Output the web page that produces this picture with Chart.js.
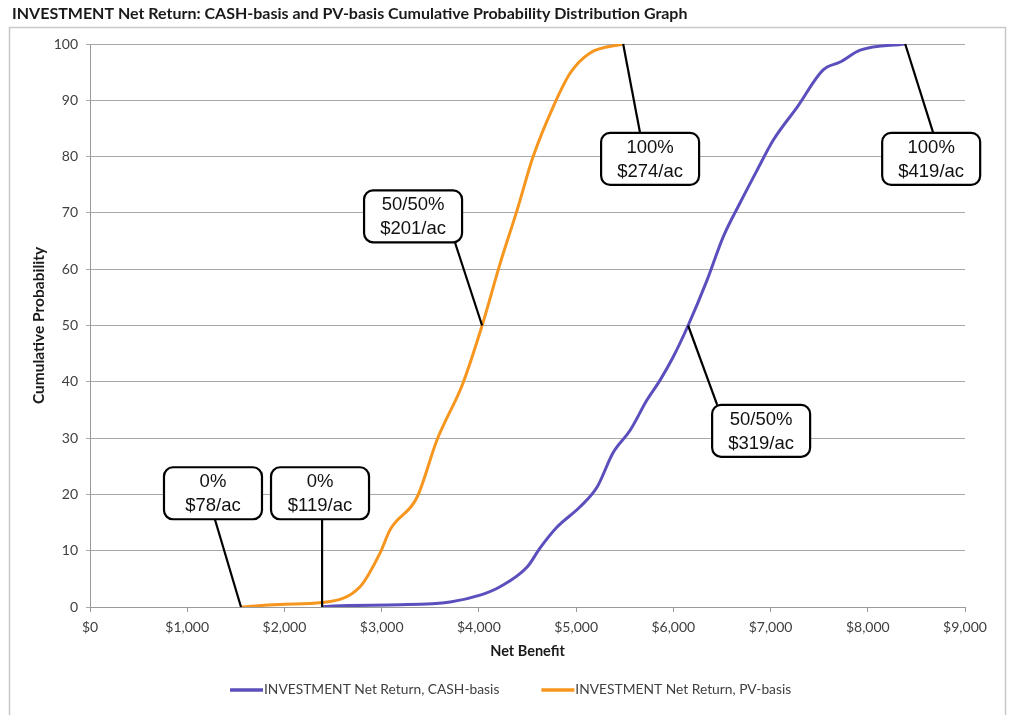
<!DOCTYPE html>
<html>
<head>
<meta charset="utf-8">
<script src="https://cdn.jsdelivr.net/npm/chart.js@4.4.0/dist/chart.umd.min.js"></script>
<style>
  body { margin: 0; background: #fff; }
  #wrap { width: 1016px; height: 715px; position: relative; }
</style>
</head>
<body>
<div id="wrap"><canvas id="cdfChart"></canvas></div>
<script>
// chart data
const chartTitle = 'INVESTMENT Net Return: CASH-basis and PV-basis Cumulative Probability Distribution Graph';
const seriesNames = ['INVESTMENT Net Return, CASH-basis', 'INVESTMENT Net Return, PV-basis'];

// CASH-basis curve (net benefit $, cumulative probability)
const cashX = [2387, 2500, 3189, 3704, 4012, 4218, 4496, 4630, 4804, 5041, 5216, 5380, 5556, 5730, 5864, 5998, 6152, 6348, 6512, 6687, 6862, 7027, 7274, 7541, 7716, 7922, 8385];
const cashY = [0, 0.2, 0.4, 0.9, 2.1, 3.6, 7.1, 10.5, 14.2, 17.8, 21.3, 27.4, 31.4, 36.8, 40.3, 44.4, 50, 58.1, 65.7, 71.8, 77.6, 82.9, 88.8, 95.4, 96.8, 98.9, 100];

// PV-basis curve
const pvX = [1553, 2000, 2387, 2778, 2984, 3086, 3364, 3570, 3837, 4033, 4218, 4393, 4558, 4763, 4938, 5144, 5484];
const pvY = [0, 0.5, 0.8, 3.6, 9.6, 13.7, 19.5, 29.7, 39.8, 50, 61, 70.5, 80, 88.8, 94.8, 98.4, 100];

// callout labels and the point each one marks
const calloutText = [['0%', '$78/ac'], ['0%', '$119/ac'], ['50/50%', '$201/ac'], ['100%', '$274/ac'], ['100%', '$419/ac'], ['50/50%', '$319/ac']];
const calloutX = [1553, 2387, 4033, 5484, 8385, 6152];
const calloutY = [0, 0, 50, 100, 100, 50];

// where the boxes sit (data units) and where the leader line meets them
const boxAt = [[1265, 20.2], [2366, 20.2], [3323, 69.4], [5761, 79.6], [8652, 79.6], [6903, 31.3]];
const leaderEnd = [[1286, 15.5], [2387, 15.5], [3755, 64.7], [5658, 84.2], [8673, 84.2], [6451, 35.9]];

const blue = '#5b4fbd';
const orange = '#f7961e';
const textGrey = '#404040';
const uiFont = 'Lato, "Open Sans", sans-serif';

function toPoints(xs, ys) {
    return xs.map((x, i) => ({ x: x, y: ys[i] }));
}

// title, frame, callouts and legend are drawn by hand
const extrasPlugin = {
    id: 'extras',
    beforeDraw(chart) {
        const ctx = chart.ctx;
        ctx.save();
        ctx.strokeStyle = '#c8c8c8';
        ctx.lineWidth = 1.5;
        ctx.strokeRect(9.5, 27.5, 996, 700);
        ctx.fillStyle = '#1a1a1a';
        ctx.font = 'bold 16px ' + uiFont;
        ctx.textBaseline = 'middle';
        ctx.textAlign = 'left';
        ctx.fillText(chartTitle, 12, 14);
        ctx.restore();
    },
    afterDatasetsDraw(chart) {
        const ctx = chart.ctx;
        const xs = chart.scales.x, ys = chart.scales.y;
        ctx.save();
        calloutText.forEach((lines, i) => {
            const ax = xs.getPixelForValue(calloutX[i]);
            const ay = ys.getPixelForValue(calloutY[i]);
            const ex = xs.getPixelForValue(leaderEnd[i][0]);
            const ey = ys.getPixelForValue(leaderEnd[i][1]);
            const bx = xs.getPixelForValue(boxAt[i][0]);
            const by = ys.getPixelForValue(boxAt[i][1]);
            ctx.strokeStyle = '#000';
            ctx.lineWidth = 2.2;
            ctx.beginPath();
            ctx.moveTo(ax, ay);
            ctx.lineTo(ex, ey);
            ctx.stroke();
            const w = 98, h = 52;
            ctx.beginPath();
            ctx.roundRect(bx - w / 2, by - h / 2, w, h, 9);
            ctx.fillStyle = '#fff';
            ctx.fill();
            ctx.stroke();
            ctx.fillStyle = '#111';
            ctx.font = '18.5px "Liberation Sans", Arial, sans-serif';
            ctx.textAlign = 'center';
            ctx.textBaseline = 'middle';
            ctx.fillText(lines[0], bx, by - 11);
            ctx.fillText(lines[1], bx, by + 13);
        });
        ctx.restore();
    },
    afterDraw(chart) {
        // legend row under the axis title
        const ctx = chart.ctx;
        const colors = chart.data.datasets.map(d => d.borderColor);
        ctx.save();
        ctx.font = '13.8px ' + uiFont;
        ctx.textBaseline = 'middle';
        ctx.textAlign = 'left';
        const lineW = 33, gap = 42;
        const widths = seriesNames.map(s => lineW + 1 + ctx.measureText(s).width);
        let x = 230;
        const y = 690;
        seriesNames.forEach((s, i) => {
            ctx.strokeStyle = colors[i];
            ctx.lineWidth = 3.5;
            ctx.beginPath();
            ctx.moveTo(x, y);
            ctx.lineTo(x + lineW, y);
            ctx.stroke();
            ctx.fillStyle = textGrey;
            ctx.fillText(s, x + lineW + 1, y);
            x += widths[i] + gap;
        });
        ctx.restore();
    }
};

const ctx = document.getElementById('cdfChart').getContext('2d');

new Chart(ctx, {
    type: 'line',
    data: {
        datasets: [
            {
                label: seriesNames[0],
                data: toPoints(cashX, cashY),
                borderColor: blue,
                borderWidth: 3,
                pointRadius: 0,
                cubicInterpolationMode: 'monotone',
                fill: false
            },
            {
                label: seriesNames[1],
                data: toPoints(pvX, pvY),
                borderColor: orange,
                borderWidth: 3,
                pointRadius: 0,
                cubicInterpolationMode: 'monotone',
                fill: false
            }
        ]
    },
    options: {
        responsive: true,
        maintainAspectRatio: false,
        animation: false,
        layout: {
            padding: { left: 10, right: 51, top: 44, bottom: 50 }
        },
        plugins: {
            legend: { display: false },
            title: { display: false },
            tooltip: { enabled: false }
        },
        scales: {
            x: {
                type: 'linear',
                min: 0,
                max: 9000,
                afterFit: (scale) => { scale.height = 58; },
                ticks: {
                    stepSize: 1000,
                    padding: 7,
                    color: textGrey,
                    font: { family: uiFont, size: 14 },
                    maxRotation: 0,
                    callback: (v) => '$' + v.toLocaleString('en-US')
                },
                grid: {
                    drawOnChartArea: false,
                    drawTicks: true,
                    tickLength: 5,
                    color: '#9a9a9a'
                },
                border: { color: '#9a9a9a', width: 1 },
                title: {
                    display: true,
                    text: 'Net Benefit',
                    color: '#1a1a1a',
                    font: { family: uiFont, size: 14.5, weight: 'bold' },
                    padding: { top: 4, bottom: 5 }
                }
            },
            y: {
                min: 0,
                max: 100,
                afterFit: (scale) => { scale.width = 80; },
                ticks: {
                    stepSize: 10,
                    padding: 8,
                    color: textGrey,
                    font: { family: uiFont, size: 14 }
                },
                grid: {
                    color: '#a8a8a8',
                    lineWidth: 1,
                    tickLength: 4
                },
                border: { color: '#9a9a9a', width: 1 },
                title: {
                    display: true,
                    text: 'Cumulative Probability',
                    color: '#1a1a1a',
                    font: { family: uiFont, size: 15.5, weight: 'bold' },
                    padding: { top: 20, bottom: 0 }
                }
            }
        }
    },
    plugins: [extrasPlugin]
});
</script>
</body>
</html>
